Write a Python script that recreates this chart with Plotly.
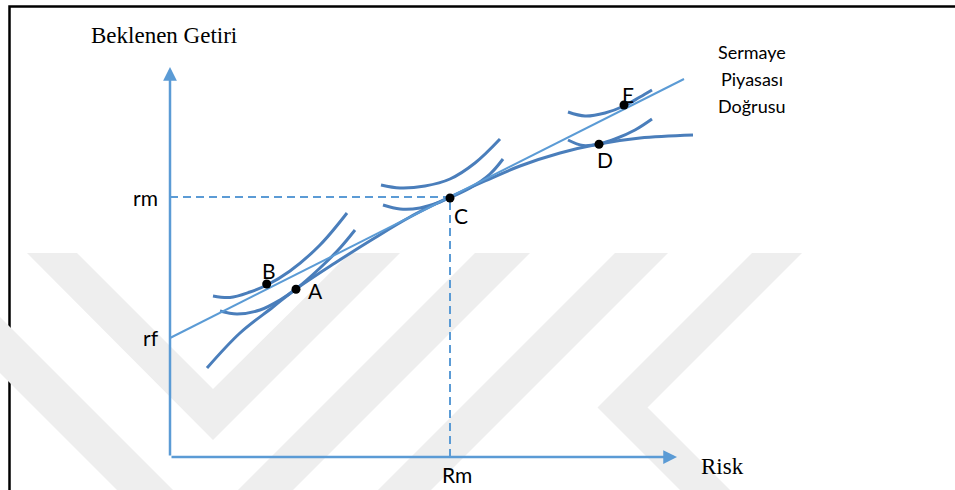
import plotly.graph_objects as go

# ---------------- data (arbitrary risk / return units, origin at axis crossing) ----------------
cml_x = [0, 514]
cml_y = [119, 378]

frontier_x = [37, 70, 103, 126, 165, 203, 240, 280, 315, 350, 390, 429, 470, 523]
frontier_y = [89, 124, 150, 168, 194, 218, 240, 260, 276, 291, 304, 313, 319, 322]

icB_x = [43, 60, 80, 97, 120, 150, 177]
icB_y = [161, 159.5, 165, 172, 186, 212, 244]
icA_x = [50, 67, 90, 110, 126, 150, 170, 185]
icA_y = [146, 143, 147, 157, 168, 189, 209, 227]
icC1_x = [211, 230, 255, 280, 305, 330]
icC1_y = [272, 269, 271, 278, 294, 318]
icC2_x = [213, 230, 250, 270, 280, 300, 320, 333]
icC2_y = [252, 248, 249, 255, 259.5, 269, 283, 298]
icE_x = [398, 415, 435, 454, 470, 482]
icE_y = [345, 341, 344, 351, 360, 367]
icD_x = [398, 413, 429, 445, 465, 482]
icD_y = [317, 311.5, 313, 318, 327, 338]

pt_labels = ["A", "B", "C", "D", "E"]
pt_x = [126, 96.7, 280, 429, 454]
pt_y = [167.7, 173, 259, 312.7, 352]

rf_val = 119
rm_val = 260
Rm_val = 280
y_axis_top = 390
x_axis_end = 507

# ---------------- styling / layout ----------------
W, H = 955, 490
OX, OY = 170, 457          # pixel position of the axis origin
CURVE = "#4a7ebb"
LIGHT = "#5b9bd5"
WM = "#eeeeee"


def px(xp, yp):
    """pixel -> data coordinates (used only for the background watermark)"""
    return xp - OX, OY - yp


fig = go.Figure()

# indifference curves and frontier
for xs, ys in [(icB_x, icB_y), (icA_x, icA_y), (icC1_x, icC1_y), (icC2_x, icC2_y),
               (icE_x, icE_y), (icD_x, icD_y), (frontier_x, frontier_y)]:
    fig.add_trace(go.Scatter(x=xs, y=ys, mode="lines",
                             line=dict(color=CURVE, width=3, shape="spline", smoothing=1.0),
                             hoverinfo="skip", showlegend=False))

# capital market line
fig.add_trace(go.Scatter(x=cml_x, y=cml_y, mode="lines",
                         line=dict(color=LIGHT, width=2), hoverinfo="skip", showlegend=False))

# dashed guide lines
fig.add_trace(go.Scatter(x=[0, Rm_val], y=[rm_val, rm_val], mode="lines",
                         line=dict(color=LIGHT, width=2, dash="8px,5px"),
                         hoverinfo="skip", showlegend=False))
fig.add_trace(go.Scatter(x=[Rm_val, Rm_val], y=[0, rm_val], mode="lines",
                         line=dict(color=LIGHT, width=2, dash="8px,5px"),
                         hoverinfo="skip", showlegend=False))

# points
fig.add_trace(go.Scatter(x=pt_x, y=pt_y, mode="markers",
                         marker=dict(color="black", size=9),
                         hoverinfo="skip", showlegend=False))

ann = []
# axes with arrows
ann.append(dict(x=0, y=y_axis_top, ax=0, ay=0, xref="x", yref="y", axref="x", ayref="y",
                showarrow=True, arrowhead=2, arrowsize=1.1, arrowwidth=2.5,
                arrowcolor=LIGHT, text=""))
ann.append(dict(x=x_axis_end, y=0, ax=0, ay=0, xref="x", yref="y", axref="x", ayref="y",
                showarrow=True, arrowhead=2, arrowsize=1.1, arrowwidth=2.5,
                arrowcolor=LIGHT, text=""))

SANS = "Lato"
SERIF = "Liberation Serif"
offsets = {"A": (19, -1), "B": (2, 14), "C": (11, -17), "D": (6, -15), "E": (4, 11)}
for lab, x, y in zip(pt_labels, pt_x, pt_y):
    dx, dy = offsets[lab]
    ann.append(dict(x=x, y=y, text=lab, showarrow=False, xshift=dx, yshift=dy,
                    font=dict(family=SANS, size=21, color="black")))

ann.append(dict(x=0, y=rm_val, text="rm", showarrow=False, xanchor="right", xshift=-10,
                font=dict(family=SANS, size=21, color="black")))
ann.append(dict(x=0, y=rf_val, text="rf", showarrow=False, xanchor="right", xshift=-9, yshift=1,
                font=dict(family=SANS, size=21, color="black")))
ann.append(dict(x=Rm_val, y=0, text="Rm", showarrow=False, xshift=7, yshift=-17,
                font=dict(family=SANS, size=21, color="black")))
ann.append(dict(x=-6, y=422, text="Beklenen Getiri", showarrow=False,
                font=dict(family=SERIF, size=23, color="black")))
ann.append(dict(x=552, y=-9, text="Risk", showarrow=False,
                font=dict(family=SERIF, size=23, color="black")))
for txt, yy in [("Sermaye", 405), ("Piyasası", 378), ("Doğrusu", 351)]:
    ann.append(dict(x=582, y=yy, text=txt, showarrow=False,
                    font=dict(family=SANS, size=18, color="black")))

# faint background watermark (decoration)
wm_polys = [
    [(27, 253), (77, 253), (213, 389), (350, 253), (400, 253), (213, 440)],
    [(-10, 307), (-10, 363), (117, 490), (173, 490)],
    [(475, 253), (530, 253), (293, 490), (238, 490)],
    [(615, 253), (668, 253), (431, 490), (378, 490)],
    [(752, 253), (802, 253), (647.5, 407.5), (730, 490), (680, 490), (597.5, 407.5)],
]
shapes = []
for poly in wm_polys:
    pts = [px(a, b) for a, b in poly]
    path = "M " + " L ".join(f"{a},{b}" for a, b in pts) + " Z"
    shapes.append(dict(type="path", path=path, xref="x", yref="y",
                       fillcolor=WM, line=dict(width=0), layer="below"))

# black frame
shapes.append(dict(type="rect", xref="paper", yref="paper",
                   x0=9.5 / W, x1=1.02, y0=-0.02, y1=1 - 6.5 / H,
                   line=dict(color="black", width=2.5), layer="below"))

fig.update_layout(
    width=W, height=H,
    margin=dict(l=0, r=0, t=0, b=0),
    paper_bgcolor="white", plot_bgcolor="white",
    xaxis=dict(range=[-OX, W - OX], visible=False, fixedrange=True),
    yaxis=dict(range=[OY - H, OY], visible=False, fixedrange=True),
    annotations=ann, shapes=shapes, showlegend=False,
)

fig.write_html("out.html", post_script="document.body.style.margin='0';",
               config={"displayModeBar": False})
